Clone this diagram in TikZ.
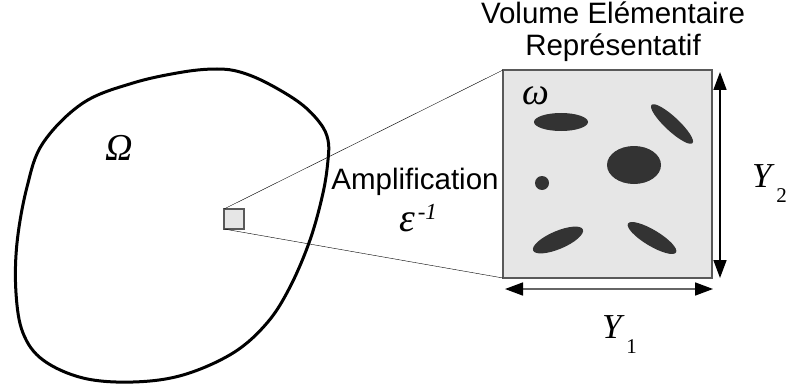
\documentclass[tikz,border=0pt]{standalone}
\usepackage{fontspec}
\setmainfont{Liberation Serif}
\setsansfont{Liberation Sans}
\usetikzlibrary{arrows.meta}
\definecolor{cellgray}{HTML}{E6E6E6}
\definecolor{inclgray}{HTML}{333333}
\newcommand{\fs}[1]{\fontsize{#1}{#1}\selectfont}
\newcommand{\ylab}[1]{{\fs{35}\itshape Y}\hspace{5pt}\raisebox{-15pt}{\fs{21}#1}}

\begin{document}
\begin{tikzpicture}[x=1pt,y=-1pt,
	every node/.style={inner sep=0pt,outer sep=0pt},
	cell/.style={draw=black!65,fill=cellgray,line width=1.2pt},
	incl/.style={fill=inclgray},
	dim/.style={line width=1.6pt,
		{Triangle[width=13pt,length=18pt,color=black]}-{Triangle[width=13pt,length=18pt,color=black]}},
	sym/.style={font=\fs{38}\itshape},
	txt/.style={font=\sffamily\fontsize{29.5}{32}\selectfont,align=center}]
\useasboundingbox (0,0) rectangle (789,385);
% domain Omega
\draw[line width=3pt] plot[smooth cycle,tension=0.6] coordinates {(83,103) (133,83)
	(183,72) (217,69) (240,72) (267,83) (300,103) (320,123) (328,140) (328,160)
	(323,193) (310,240) (290,287) (267,323) (233,353) (183,375) (133,382) (83,378)
	(43,360) (23,333) (16,293) (17,243) (27,187) (43,143)};
\node[sym] (Omega) at (119,148) {Ω};
% cell and its amplification
\node[cell,minimum size=20pt] (elem) at (234,219) {};
\node[cell,minimum width=209pt,minimum height=208pt] (veb) at (607.5,174) {};
\draw (elem.north west) -- (veb.north west);
\draw (elem.south west) -- (veb.south west);
\node[txt] (title) at (613,32) {Volume Elémentaire\\Représentatif};
\node[txt,anchor=base] (ampl) at (415,189) {Amplification};
\node[fill=white,anchor=base west,text height=41pt,text depth=0pt] (eps) at (399,231)
	{{\fs{40}\itshape ε}\hspace{3pt}\raisebox{12pt}{\fs{23}\itshape -1}};
% inclusions
\node[sym] (omega) at (536,96) {ω};
\fill[incl] (561,122) ellipse [x radius=27,y radius=9];
\fill[incl,rotate around={-43:(672,124)}] (672,124) ellipse [x radius=28,y radius=7];
\fill[incl] (634,165) ellipse [x radius=27,y radius=19];
\fill[incl] (542,183) circle [radius=7];
\fill[incl,rotate around={23:(558,240)}] (558,240) ellipse [x radius=27,y radius=9];
\fill[incl,rotate around={-31:(652,238)}] (652,238) ellipse [x radius=28,y radius=8];
% dimensions
\coordinate (y2top) at (720,72);
\coordinate (y2bot) at (720,278);
\draw[dim] (y2top) -- (y2bot);
\coordinate (y1left) at (505,289);
\coordinate (y1right) at (713,289);
\draw[dim,draw=black!60] (y1left) -- (y1right);
\node[anchor=base west] (Y2) at (752,187) {\ylab{2}};
\node[anchor=base west] (Y1) at (602,338) {\ylab{1}};
\end{tikzpicture}
\end{document}
